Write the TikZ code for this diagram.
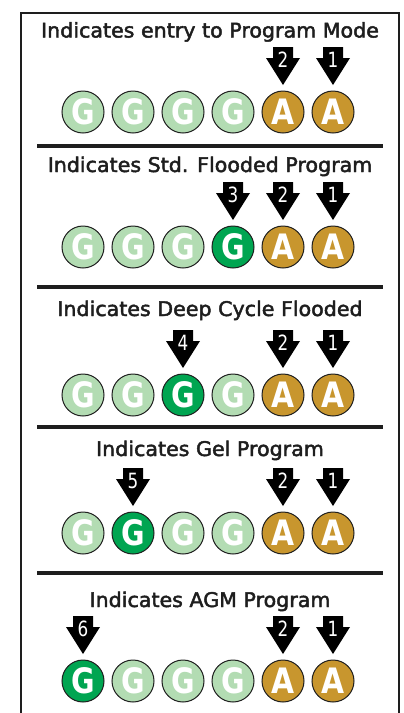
\documentclass[tikz,border=0pt]{standalone}
\usepackage{fontspec}
\setmainfont{DejaVu Sans}
\newfontfamily\headfont{DejaVu Sans}[FakeBold=2.2]
\definecolor{palegreen}{HTML}{B3DCB3}
\definecolor{deepgreen}{HTML}{00A551}
\definecolor{amber}{HTML}{C8962E}
\definecolor{ink}{HTML}{1E1E1E}

\newcommand\letterG{\scalebox{0.82}[1]{G}}
\newcommand\letterA{\scalebox{0.85}[1]{A}}

% one row of indicator lamps: four G lamps (one of them lit) and two A lamps
\newcommand\lamprow[3]{%
  \foreach \k in {1,2,3,4}{%
    \ifnum\k=#3\relax\def\lampfill{deepgreen}\else\def\lampfill{palegreen}\fi
    \node[lamp, fill=\lampfill] (#1-g\k) at ({33+50*\k},#2) {\letterG};
  }
  \node[lamp, fill=amber] (#1-a5) at (283,#2) {\letterA};
  \node[lamp, fill=amber] (#1-a6) at (333,#2) {\letterA};
}

\begin{document}
\begin{tikzpicture}[x=1pt,y=-1pt,
  lamp/.style={circle, draw=ink, line width=1pt, minimum size=42pt,
    inner sep=0pt, text=white, font=\fontsize{35}{35}\selectfont\bfseries},
  heading/.style={anchor=base, inner sep=0pt, text=ink,
    font=\fontsize{20.2}{24}\headfont},
  digit/.style={inner sep=0pt, text=white, font=\fontsize{21}{21}\selectfont},
  rule/.style={line width=3.5pt, draw=ink},
  frame/.style={line width=2pt, draw=ink},
  pics/pointer/.style={code={
    \fill[black] (-10,0) -- (10,0) -- (10,11) -- (17,11) -- (0,38)
      -- (-17,11) -- (-10,11) -- cycle;
    \node[digit] (-num) at (0,13) {\scalebox{0.8}[1]{#1}};
  }}
]
\useasboundingbox (0,0) rectangle (404,713);

% outer frame, open at the bottom
\draw[frame] (21,713) -- (21,12.5) -- (399,12.5) -- (399,713);

% separators between the panels
\draw[rule] (37,146) -- (383,146);
\draw[rule] (37,287) -- (383,287);
\draw[rule] (37,427) -- (383,427);
\draw[rule] (37,573) -- (383,573);

% panel 1
\node[heading] (t1) at (210,37.5) {\scalebox{1.02}[1]{Indicates entry to Program Mode}};
\pic (r1-p2) at (283,47) {pointer=2};
\pic (r1-p1) at (333,47) {pointer=1};
\lamprow{r1}{112}{0}

% panel 2
\node[heading] (t2) at (210,172) {\scalebox{1.02}[1]{Indicates Std. Flooded Program}};
\pic (r2-p3) at (233,182) {pointer=3};
\pic (r2-p2) at (283,182) {pointer=2};
\pic (r2-p1) at (333,182) {pointer=1};
\lamprow{r2}{247}{4}

% panel 3
\node[heading] (t3) at (210,316) {\scalebox{1.02}[1]{Indicates Deep Cycle Flooded}};
\pic (r3-p4) at (183,330) {pointer=4};
\pic (r3-p2) at (283,330) {pointer=2};
\pic (r3-p1) at (333,330) {pointer=1};
\lamprow{r3}{395}{3}

% panel 4
\node[heading] (t4) at (210,456) {\scalebox{1.02}[1]{Indicates Gel Program}};
\pic (r4-p5) at (133,468) {pointer=5};
\pic (r4-p2) at (283,468) {pointer=2};
\pic (r4-p1) at (333,468) {pointer=1};
\lamprow{r4}{533}{2}

% panel 5
\node[heading] (t5) at (210,607) {\scalebox{1.02}[1]{Indicates AGM Program}};
\pic (r5-p6) at (83,616) {pointer=6};
\pic (r5-p2) at (283,616) {pointer=2};
\pic (r5-p1) at (333,616) {pointer=1};
\lamprow{r5}{681}{1}
\end{tikzpicture}
\end{document}
